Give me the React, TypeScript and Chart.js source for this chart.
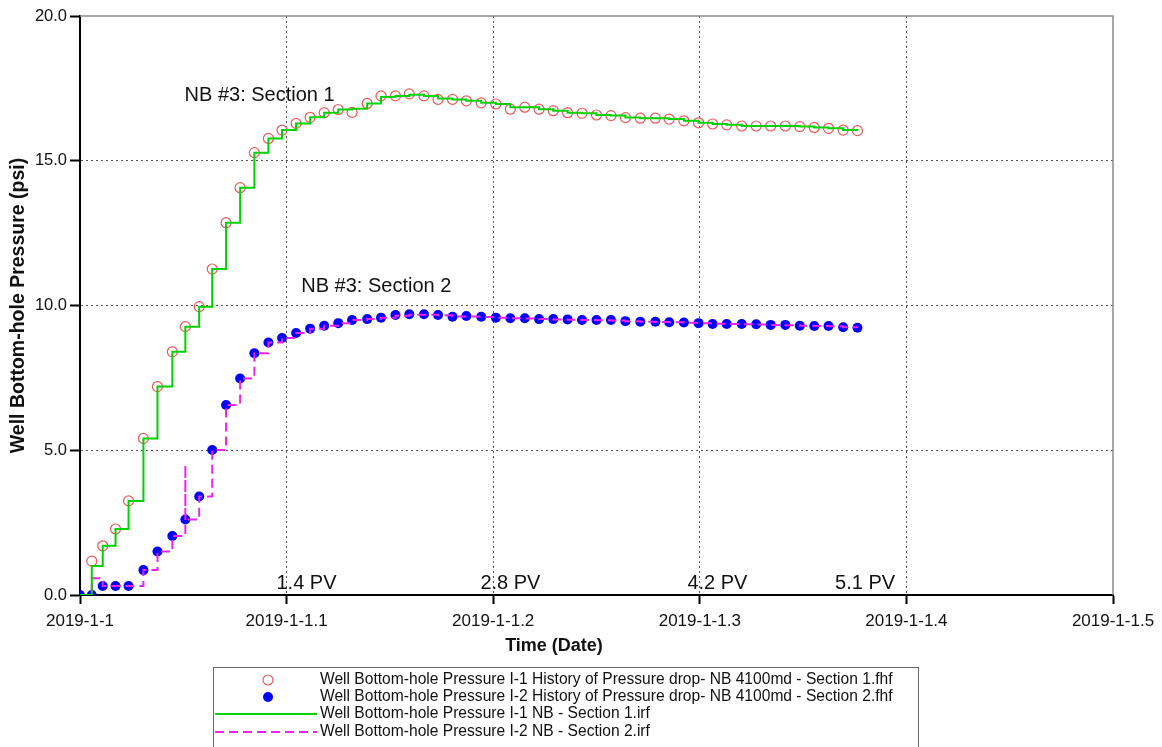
import React, { useEffect, useRef } from 'react';
import { Chart, registerables } from 'chart.js';

Chart.register(...registerables);

// Time in days after 2019-1-1 (shared by all series)
const TIME_DAYS = [
  0, 0.0057, 0.011, 0.0172, 0.0235, 0.0307, 0.0375, 0.0447, 0.051, 0.0577,
  0.064, 0.0707, 0.0775, 0.0844, 0.0912, 0.0978, 0.1046, 0.1114, 0.1182, 0.125,
  0.1317, 0.139, 0.1457, 0.1527, 0.1594, 0.1665, 0.1733, 0.1803, 0.187, 0.1942,
  0.2013, 0.2083, 0.2153, 0.2222, 0.2291, 0.236, 0.243, 0.25, 0.257, 0.264,
  0.2712, 0.2785, 0.2852, 0.2923, 0.2994, 0.3062, 0.313, 0.3203, 0.3273, 0.3343,
  0.3414, 0.3484, 0.3554, 0.3623, 0.3694, 0.3763,
];

// Section 1 history (starts at TIME_DAYS[1])
const S1_HISTORY = [
  1.17, 1.7, 2.28, 3.25, 5.41, 7.2, 8.4, 9.27, 9.96,
  11.26, 12.86, 14.07, 15.28, 15.77, 16.06, 16.29, 16.5, 16.66, 16.77,
  16.67, 16.98, 17.24, 17.24, 17.31, 17.24, 17.12, 17.12, 17.07, 17.0,
  16.96, 16.78, 16.85, 16.78, 16.73, 16.66, 16.64, 16.58, 16.56, 16.49,
  16.47, 16.47, 16.44, 16.38, 16.31, 16.27, 16.24, 16.2, 16.2, 16.2,
  16.2, 16.18, 16.15, 16.12, 16.06, 16.04,
];

// Section 2 history (starts at TIME_DAYS[0])
const S2_HISTORY = [
  0, 0, 0.31, 0.31, 0.31, 0.86, 1.5, 2.04, 2.61, 3.4,
  5.01, 6.56, 7.48, 8.35, 8.72, 8.88, 9.05, 9.2, 9.3, 9.39,
  9.5, 9.53, 9.58, 9.67, 9.7, 9.7, 9.67, 9.61, 9.64, 9.61,
  9.58, 9.56, 9.56, 9.53, 9.53, 9.52, 9.5, 9.5, 9.5, 9.46,
  9.44, 9.44, 9.42, 9.41, 9.39, 9.36, 9.36, 9.36, 9.35, 9.33,
  9.33, 9.3, 9.29, 9.29, 9.25, 9.23,
];

// Section 1 model (irf), step line
const S1_MODEL = [
  0, 1.0, 1.7, 2.28, 3.25, 5.41, 7.2, 8.4, 9.27, 9.96,
  11.26, 12.86, 14.07, 15.28, 15.77, 16.06, 16.29, 16.5, 16.66, 16.77,
  16.8, 16.98, 17.2, 17.24, 17.28, 17.24, 17.15, 17.12, 17.07, 17.0,
  16.96, 16.85, 16.85, 16.78, 16.73, 16.66, 16.64, 16.58, 16.56, 16.49,
  16.47, 16.47, 16.44, 16.38, 16.31, 16.27, 16.24, 16.2, 16.2, 16.2,
  16.2, 16.18, 16.15, 16.12, 16.06, 16.04,
];

// Section 2 model (irf), step line
const S2_MODEL = [
  0, 0.58, 0.31, 0.31, 0.31, 0.86, 1.5, 2.04, 2.61, 3.4,
  5.01, 6.56, 7.48, 8.35, 8.72, 8.88, 9.05, 9.2, 9.3, 9.39,
  9.5, 9.53, 9.58, 9.65, 9.68, 9.68, 9.66, 9.62, 9.62, 9.6,
  9.58, 9.56, 9.55, 9.53, 9.52, 9.51, 9.5, 9.49, 9.48, 9.46,
  9.44, 9.43, 9.42, 9.4, 9.39, 9.37, 9.36, 9.35, 9.34, 9.33,
  9.32, 9.3, 9.29, 9.28, 9.25, 9.23,
];
const S2_MODEL_SPIKE_INDEX = 8;
const S2_MODEL_SPIKE_VALUE = 4.49;

const X_TICK_LABELS = ['2019-1-1', '2019-1-1.1', '2019-1-1.2', '2019-1-1.3', '2019-1-1.4', '2019-1-1.5'];
const Y_TICK_LABELS = ['0.0', '5.0', '10.0', '15.0', '20.0'];

const X_TITLE = 'Time (Date)';
const Y_TITLE = 'Well Bottom-hole Pressure (psi)';

const SERIES_LABELS = [
  'Well Bottom-hole Pressure I-1 History of Pressure drop- NB 4100md - Section 1.fhf',
  'Well Bottom-hole Pressure I-2 History of Pressure drop- NB 4100md - Section 2.fhf',
  'Well Bottom-hole Pressure I-1 NB - Section 1.irf',
  'Well Bottom-hole Pressure I-2 NB - Section 2.irf',
];

const ANNOTATION_TEXTS = ['NB #3: Section 1', 'NB #3: Section 2', '1.4 PV', '2.8 PV', '4.2 PV', '5.1 PV'];
const ANNOTATION_X = [0.0506, 0.1071, 0.0951, 0.1938, 0.294, 0.3655];
const ANNOTATION_Y = [17.27, 10.64, 0.41, 0.41, 0.41, 0.41];

const FONT = "'Liberation Sans', Arial, sans-serif";
const RED = 'rgb(238, 88, 88)';
const BLUE = '#0000ff';
const GREEN = '#00d200';
const MAGENTA = '#ee22ee';

export default function App() {
  const ref = useRef<HTMLCanvasElement | null>(null);

  useEffect(() => {
    if (!ref.current) return;

    const s1Hist = S1_HISTORY.map((v, i) => ({ x: TIME_DAYS[i + 1], y: v }));
    const s2Hist = S2_HISTORY.map((v, i) => ({ x: TIME_DAYS[i], y: v }));
    const s1Model = S1_MODEL.map((v, i) => ({ x: TIME_DAYS[i], y: v }));
    const s2Model: { x: number; y: number }[] = [];
    S2_MODEL.forEach((v, i) => {
      if (i === S2_MODEL_SPIKE_INDEX) s2Model.push({ x: TIME_DAYS[i], y: S2_MODEL_SPIKE_VALUE });
      s2Model.push({ x: TIME_DAYS[i], y: v });
    });

    const overlay = {
      id: 'overlay',
      beforeDatasetsDraw(chart: any) {
        const { ctx, chartArea: a } = chart;
        ctx.save();
        ctx.strokeStyle = '#8a8a8a';
        ctx.lineWidth = 1.5;
        ctx.beginPath();
        ctx.moveTo(a.left, a.top);
        ctx.lineTo(a.right, a.top);
        ctx.lineTo(a.right, a.bottom);
        ctx.stroke();
        ctx.restore();
      },
      afterDraw(chart: any) {
        const { ctx } = chart;
        const xs = chart.scales.x;
        const ys = chart.scales.y;
        ctx.save();
        ctx.fillStyle = '#111';
        ctx.font = `20px ${FONT}`;
        ctx.textAlign = 'left';
        ctx.textBaseline = 'middle';
        ANNOTATION_TEXTS.forEach((t, i) => {
          ctx.fillText(t, xs.getPixelForValue(ANNOTATION_X[i]), ys.getPixelForValue(ANNOTATION_Y[i]));
        });

        // x-axis title (offset left of the axis centre, as in the original)
        ctx.font = `bold 18px ${FONT}`;
        ctx.textAlign = 'center';
        ctx.fillText(X_TITLE, 554, 646);

        // Legend box
        const boxL = 213, boxT = 667, boxR = 918, boxB = 760;
        ctx.strokeStyle = '#6a6a6a';
        ctx.lineWidth = 1;
        ctx.strokeRect(boxL + 0.5, boxT + 0.5, boxR - boxL, boxB - boxT);
        const rows = [680, 697, 714, 732];
        const textX = 320;
        ctx.textAlign = 'left';
        ctx.font = `15.6px ${FONT}`;
        ctx.fillStyle = '#111';
        SERIES_LABELS.forEach((lab, i) => ctx.fillText(lab, textX, rows[i]));
        // markers
        ctx.beginPath();
        ctx.strokeStyle = RED;
        ctx.lineWidth = 1.2;
        ctx.arc(268, rows[0], 5, 0, Math.PI * 2);
        ctx.stroke();
        ctx.beginPath();
        ctx.fillStyle = BLUE;
        ctx.arc(268, rows[1], 5, 0, Math.PI * 2);
        ctx.fill();
        ctx.beginPath();
        ctx.strokeStyle = GREEN;
        ctx.lineWidth = 2;
        ctx.moveTo(215, rows[2]);
        ctx.lineTo(317, rows[2]);
        ctx.stroke();
        ctx.beginPath();
        ctx.strokeStyle = MAGENTA;
        ctx.setLineDash([9, 5]);
        ctx.moveTo(215, rows[3]);
        ctx.lineTo(317, rows[3]);
        ctx.stroke();
        ctx.restore();
      },
    };

    const chart = new Chart(ref.current, {
      type: 'scatter',
      data: {
        datasets: [
          {
            label: SERIES_LABELS[2],
            data: s1Model,
            showLine: true,
            stepped: true,
            borderColor: GREEN,
            borderWidth: 2,
            pointRadius: 0,
            fill: false,
            order: 0,
          },
          {
            label: SERIES_LABELS[3],
            data: s2Model,
            showLine: true,
            stepped: true,
            borderColor: MAGENTA,
            borderWidth: 2,
            borderDash: [9, 5],
            pointRadius: 0,
            fill: false,
            order: 1,
          },
          {
            label: SERIES_LABELS[0],
            data: s1Hist,
            showLine: false,
            pointStyle: 'circle',
            pointRadius: 5,
            pointBorderWidth: 1.2,
            pointBorderColor: RED,
            pointBackgroundColor: 'rgba(255,255,255,0)',
            order: 2,
          },
          {
            label: SERIES_LABELS[1],
            data: s2Hist,
            showLine: false,
            pointStyle: 'circle',
            pointRadius: 5,
            pointBorderWidth: 0,
            pointBackgroundColor: BLUE,
            pointBorderColor: BLUE,
            order: 3,
          },
        ],
      },
      options: {
        responsive: false,
        animation: false,
        events: [],
        layout: { padding: { left: 0, right: 49, top: 16, bottom: 90 } },
        plugins: {
          legend: { display: false },
          tooltip: { enabled: false },
        },
        scales: {
          x: {
            type: 'linear',
            min: 0,
            max: 0.5,
            afterFit: (s: any) => { s.height = 62; },
            ticks: {
              stepSize: 0.1,
              autoSkip: false,
              maxRotation: 0,
              padding: 7,
              color: '#111',
              font: { family: FONT, size: 17 },
              callback: (_v: any, i: number) => X_TICK_LABELS[i],
            },
            grid: {
              color: (c: any) => (c.index === 0 || c.index === X_TICK_LABELS.length - 1 ? 'rgba(0,0,0,0)' : '#555'),
              tickColor: '#000',
              tickLength: 9,
              tickWidth: 2,
              lineWidth: 1,
            },
            border: { display: true, color: '#000', width: 2, dash: [2, 3] },
            title: { display: false },
          },
          y: {
            type: 'linear',
            min: 0,
            max: 20,
            afterFit: (s: any) => { s.width = 80; },
            ticks: {
              stepSize: 5,
              padding: 3,
              color: '#111',
              font: { family: FONT, size: 16.5 },
              callback: (_v: any, i: number) => Y_TICK_LABELS[i],
            },
            grid: {
              color: (c: any) => (c.index === 0 || c.index === Y_TICK_LABELS.length - 1 ? 'rgba(0,0,0,0)' : '#555'),
              tickColor: '#000',
              tickLength: 10,
              tickWidth: 2,
              lineWidth: 1,
            },
            border: { display: true, color: '#000', width: 2, dash: [2, 3] },
            title: {
              display: true,
              text: Y_TITLE,
              color: '#111',
              font: { family: FONT, size: 19.5, weight: 'bold' },
              padding: { top: 7, bottom: 0 },
            },
          },
        },
      },
      plugins: [overlay],
    });

    return () => chart.destroy();
  }, []);

  return (
    <div style={{ position: 'absolute', left: 0, top: 0, width: 1162, height: 747, background: '#fff' }}>
      <canvas ref={ref} width={1162} height={747} style={{ display: 'block' }} />
    </div>
  );
}
